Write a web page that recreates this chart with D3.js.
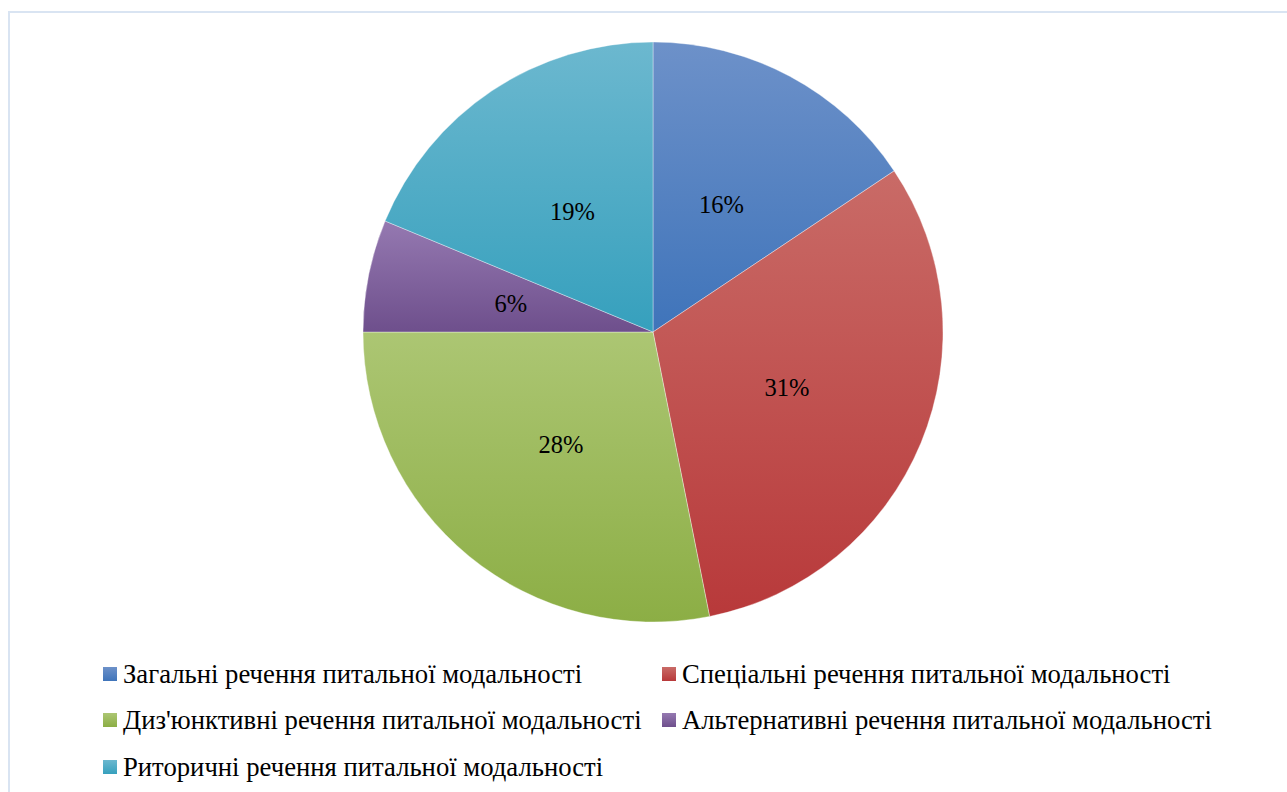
<!DOCTYPE html>
<html>
<head>
<meta charset="utf-8">
<script src="https://cdn.jsdelivr.net/npm/d3@7"></script>
<style>
  body { margin: 0; background: #fff; }
  svg { display: block; }
</style>
</head>
<body>
<div id="vis"></div>
<script>
var categories = [
  "Загальні речення питальної модальності",
  "Спеціальні речення питальної модальності",
  "Диз'юнктивні речення питальної модальності",
  "Альтернативні речення питальної модальності",
  "Риторичні речення питальної модальності"
];
// counts of sentences (shares shown as rounded percentages)
var values = [5, 10, 9, 2, 6];
var colorsTop = ["#6d91c9", "#c96b67", "#acc673", "#9579b1", "#6cb8cf"];
var colorsBottom = ["#3f74ba", "#b8393a", "#8cae45", "#6e4f8c", "#36a0bd"];

var W = 1287, H = 792;
var cx = 653, cy = 332, radius = 290;
var serif = "'Liberation Serif', 'Times New Roman', serif";

var svg = d3.select("#vis").append("svg")
  .attr("width", W)
  .attr("height", H);

// chart border
svg.append("rect")
  .attr("x", 9).attr("y", 12)
  .attr("width", W + 10).attr("height", H + 10)
  .attr("fill", "none")
  .attr("stroke", "#d9e4f2")
  .attr("stroke-width", 2);

var defs = svg.append("defs");
categories.forEach(function(c, i) {
  var g = defs.append("linearGradient")
    .attr("id", "grad" + i)
    .attr("x1", 0).attr("y1", 0).attr("x2", 0).attr("y2", 1);
  g.append("stop").attr("offset", "0%").attr("stop-color", colorsTop[i]);
  g.append("stop").attr("offset", "100%").attr("stop-color", colorsBottom[i]);
});

var total = d3.sum(values);
var pct = d3.format(".0%");

var pie = d3.pie().sort(null).value(function(d) { return d; });
var arc = d3.arc().innerRadius(0).outerRadius(radius);

var g = svg.append("g")
  .attr("transform", "translate(" + cx + "," + cy + ")");

var slices = g.selectAll("g.slice")
  .data(pie(values))
  .enter().append("g")
  .attr("class", "slice");

slices.append("path")
  .attr("d", arc)
  .attr("fill", function(d, i) { return "url(#grad" + i + ")"; })
  .attr("stroke", "#ffffff")
  .attr("stroke-width", 0.6)
  .attr("stroke-opacity", 0.6);

slices.append("text")
  .attr("transform", function(d) { return "translate(" + arc.centroid(d) + ")"; })
  .attr("text-anchor", "middle")
  .attr("dy", "0.35em")
  .attr("font-family", serif)
  .attr("font-size", 24.5)
  .attr("fill", "#000")
  .text(function(d) { return pct(d.data / total); });

// legend
var legendX = [103, 662];
var legendY = [674, 720, 767];
var legend = svg.append("g")
  .selectAll("g")
  .data(categories)
  .enter().append("g")
  .attr("transform", function(d, i) {
    return "translate(" + legendX[i % 2] + "," + legendY[Math.floor(i / 2)] + ")";
  });

legend.append("rect")
  .attr("x", 0)
  .attr("y", -7)
  .attr("width", 14)
  .attr("height", 14)
  .attr("fill", function(d, i) { return "url(#grad" + i + ")"; });

legend.append("text")
  .attr("x", 20)
  .attr("y", 0)
  .attr("dy", "0.35em")
  .attr("font-family", serif)
  .attr("font-size", 26.7)
  .attr("fill", "#000")
  .text(function(d) { return d; });
</script>
</body>
</html>
